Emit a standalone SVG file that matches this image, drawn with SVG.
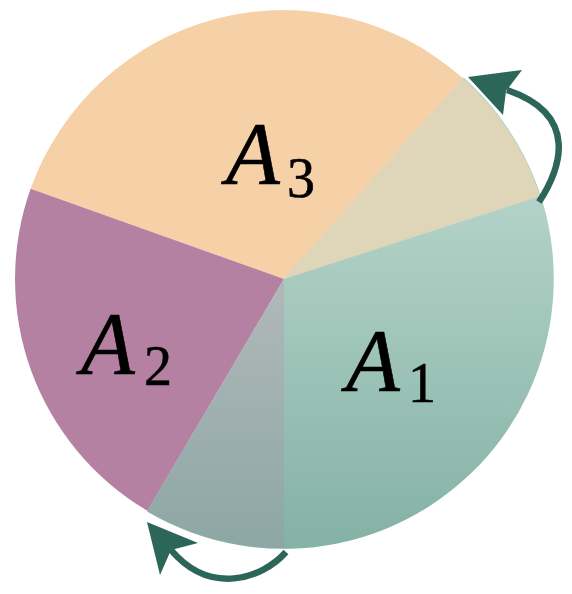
<svg xmlns="http://www.w3.org/2000/svg" width="572" height="594" viewBox="0 0 572 594">
  <defs>
    <linearGradient id="gA1" gradientUnits="userSpaceOnUse" x1="0" y1="190" x2="0" y2="548">
      <stop offset="0" stop-color="#b4d3c8"/>
      <stop offset="1" stop-color="#84b2a5"/>
    </linearGradient>
    <linearGradient id="gOvB" gradientUnits="userSpaceOnUse" x1="0" y1="279" x2="0" y2="548">
      <stop offset="0" stop-color="#b2b8b9"/>
      <stop offset="1" stop-color="#8ca7a5"/>
    </linearGradient>
    <style>
      .lbl { font-family: "Liberation Serif", "DejaVu Serif", serif; fill: #000; stroke: #000; stroke-width: 0.6px; }
      .it { font-style: italic; font-size: 88px; }
      .sub { font-size: 56px; }
      .arr { fill: none; stroke: #2b6658; stroke-width: 6.5; }
      .head { fill: #2b6658; }
    </style>
  </defs>
  <g id="A3">
    <path d="M284,279 L30.6,188.8 A269,269 0 0 1 462.9,78.2 Z" fill="#f6d1a7"/>
    <text class="lbl it" x="226" y="183">A</text>
    <text class="lbl sub" x="287" y="197">3</text>
  </g>
  <g id="A2">
    <path d="M284,279 L147.5,510.8 A269,269 0 0 1 30.6,188.8 Z" fill="#b581a3"/>
    <text class="lbl it" x="81" y="373">A</text>
    <text class="lbl sub" x="144" y="385">2</text>
  </g>
  <g id="A1">
    <path d="M284,279 L463.6,77.4 A270,270 0 0 1 147,511.6 Z" fill="url(#gA1)"/>
    <path d="M284,279 L462.9,78.2 A269,269 0 0 1 540,196.3 Z" fill="#dfd5b8"/>
    <path d="M284,279 L284,548 A269,269 0 0 1 147.5,510.8 Z" fill="url(#gOvB)"/>
    <text class="lbl it" x="346" y="390">A</text>
    <text class="lbl sub" x="408" y="402">1</text>
  </g>
  <g id="connectors">
    <path class="arr" d="M539,202 C560,170 581,115 507,90"/>
    <path class="head" d="M468,77 L522,70 L506,91 L503,115 Z"/>
    <path class="arr" d="M286,552 C262,579 210,596 171,550"/>
    <path class="head" d="M147,522 L198,543 L171,550 L160,575 Z"/>
  </g>
</svg>
